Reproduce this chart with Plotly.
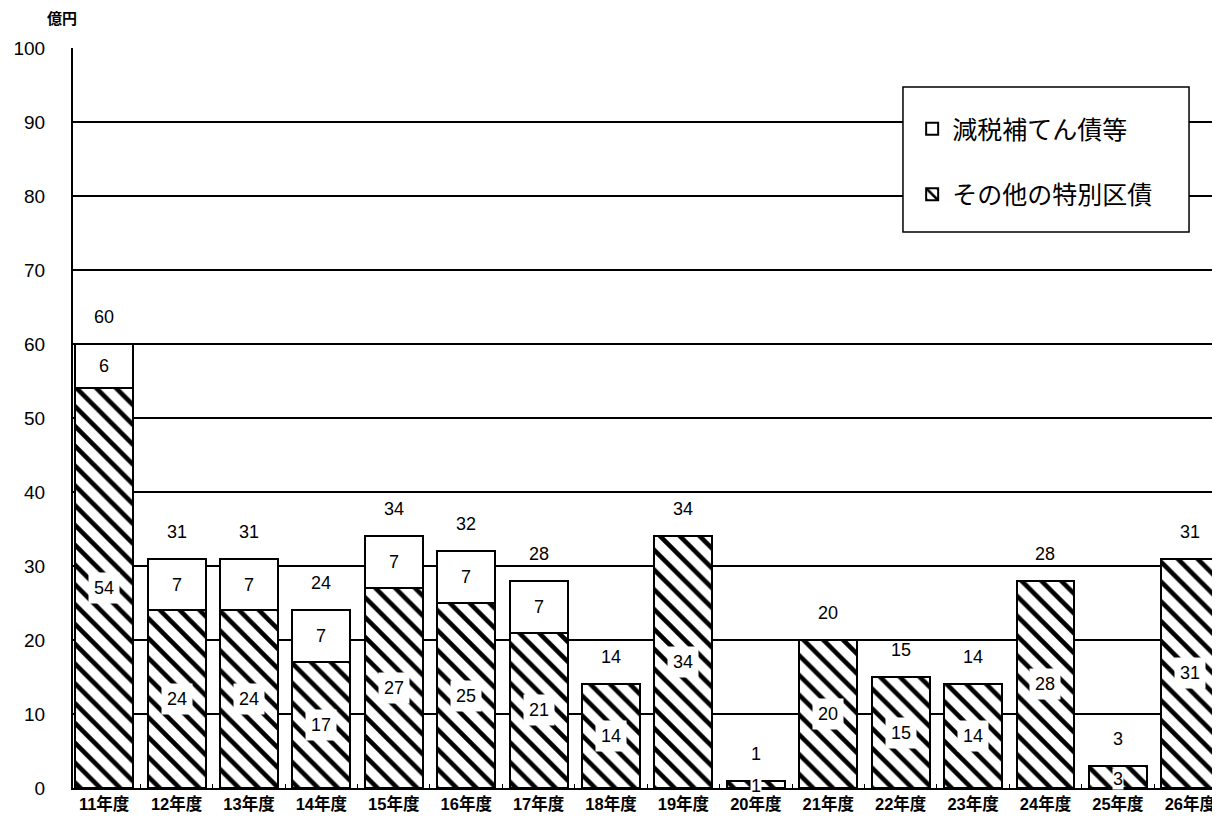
import plotly.graph_objects as go

categories = ["11年度", "12年度", "13年度", "14年度", "15年度", "16年度", "17年度", "18年度",
              "19年度", "20年度", "21年度", "22年度", "23年度", "24年度", "25年度", "26年度"]
genzei = [6, 7, 7, 7, 7, 7, 7, 0, 0, 0, 0, 0, 0, 0, 0, 0]          # 減税補てん債等
sonota = [54, 24, 24, 17, 27, 25, 21, 14, 34, 1, 20, 15, 14, 28, 3, 31]  # その他の特別区債
totals = [60, 31, 31, 24, 34, 32, 28, 14, 34, 1, 20, 15, 14, 28, 3, 31]

FONT = "Liberation Sans, Noto Sans CJK JP, sans-serif"

fig = go.Figure()
fig.add_trace(go.Bar(
    x=categories, y=sonota, name="その他の特別区債",
    marker=dict(color="white", line=dict(color="black", width=2),
                pattern=dict(shape="\\", size=14, solidity=0.33, fgcolor="#000000",
                             fgopacity=1, bgcolor="white", fillmode="overlay")),
    width=0.8, legendgroup="b", legendrank=2,
))
fig.add_trace(go.Bar(
    x=categories, y=genzei, name="減税補てん債等",
    marker=dict(color="white", line=dict(color="black", width=2)),
    width=0.8, legendgroup="a", legendrank=1,
))

ann = []
for i, c in enumerate(categories):
    ann.append(dict(x=c, y=totals[i], text=str(totals[i]), showarrow=False, yshift=27,
                    font=dict(size=18, color="black", family=FONT)))
    if sonota[i] > 0:
        small = sonota[i] < 5
        ann.append(dict(x=c, y=sonota[i] / 2, text=str(sonota[i]), showarrow=False,
                        bgcolor="white", borderpad=0 if small else 5,
                        yshift=-2 if small else 0,
                        font=dict(size=18, color="black", family=FONT)))
    if genzei[i] > 0:
        ann.append(dict(x=c, y=sonota[i] + genzei[i] / 2, text=str(genzei[i]), showarrow=False,
                        font=dict(size=18, color="black", family=FONT)))

ann.append(dict(xref="paper", yref="paper", x=-0.0096, y=1.0405, xanchor="center", yanchor="middle",
                text="<b>億円</b>", showarrow=False, font=dict(size=15, color="black", family=FONT)))

shapes = [dict(type="rect", xref="paper", yref="paper", x0=0.7236, x1=0.973, y0=0.7514, y1=0.9473,
               fillcolor="white", line=dict(color="black", width=1.5), layer="above")]

fig.update_layout(
    barmode="stack",
    width=1212, height=812,
    margin=dict(l=65, r=0, t=40, b=32),
    paper_bgcolor="white", plot_bgcolor="white",
    font=dict(family=FONT, color="black"),
    annotations=ann,
    shapes=shapes,
    showlegend=True,
    legend=dict(x=0.7316, y=0.9216, xanchor="left", yanchor="top",
                bgcolor="rgba(0,0,0,0)", borderwidth=0,
                font=dict(size=25, color="black", family=FONT),
                tracegroupgap=30, traceorder="grouped", itemwidth=30),
)
fig.update_xaxes(
    range=[-0.43, 15.41], showgrid=False,
    showline=True, linecolor="black", linewidth=2,
    ticks="inside", tickson="boundaries", ticklen=4, tickcolor="black",
    tickfont=dict(size=16.5, color="black", family=FONT, weight="bold"),
)
fig.update_yaxes(
    range=[0, 100], dtick=10, showgrid=True, gridcolor="black", gridwidth=1.5,
    showline=True, linecolor="black", linewidth=2,
    tickfont=dict(size=19, color="black", family=FONT), ticklabelstandoff=22,
    zeroline=False,
)

fig.write_html("out.html")
